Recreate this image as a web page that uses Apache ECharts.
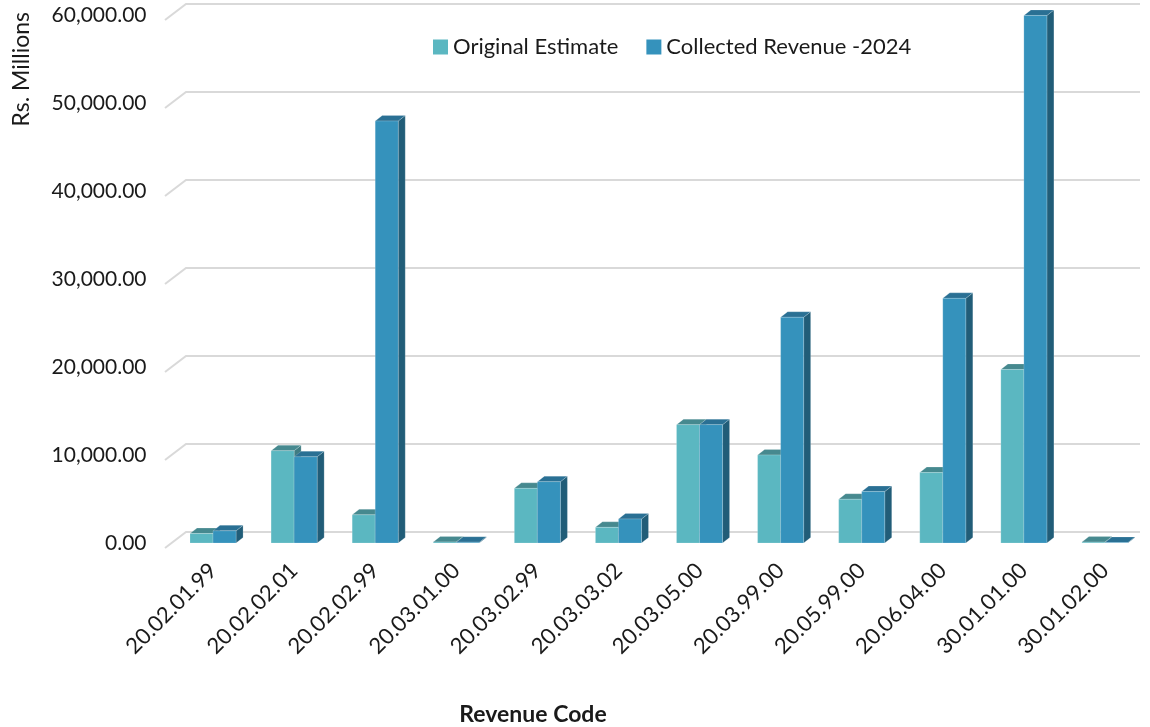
<!DOCTYPE html>
<html>
<head>
<meta charset="utf-8">
<script src="https://cdn.jsdelivr.net/npm/echarts@6/dist/echarts.min.js"></script>
<style>
html,body{margin:0;padding:0;background:#fff;}
#chart{width:1150px;height:727px;}
</style>
</head>
<body>
<div id="chart"></div>
<script>
const categories = ['20.02.01.99','20.02.02.01','20.02.02.99','20.03.01.00','20.03.02.99','20.03.03.02','20.03.05.00','20.03.99.00','20.05.99.00','20.06.04.00','30.01.01.00','30.01.02.00'];
const originalEstimate = [1070, 10490, 3200, 120, 6210, 1780, 13450, 10000, 4970, 8000, 19720, 100];
const collectedRevenue = [1380, 9800, 47950, 90, 6970, 2730, 13450, 25650, 5840, 27800, 59950, 60];
const yTicks = [0, 10000, 20000, 30000, 40000, 50000, 60000];
const seriesNames = ['Original Estimate', 'Collected Revenue -2024'];

const FONT = 'Lato';
const DX = 7, DY = 5.5;
const palettes = [
  {front:'#5bb7c1', top:'#46898f', side:'#3f7c82'},
  {front:'#3592bc', top:'#2a7094', side:'#215d78'}
];

function fmt(v){
  return Number(v).toLocaleString('en-US',{minimumFractionDigits:2, maximumFractionDigits:2});
}

function barRenderer(sIdx){
  return function(params, api){
    const i = api.value(0), v = api.value(1);
    const band = api.size([1,0])[0];
    const w = band * 0.284;
    const top = api.coord([i, v]);
    const base = api.coord([i, 0]);
    const x0 = sIdx === 0 ? top[0] - w : top[0];
    const x1 = x0 + w;
    const yT = top[1], yB = base[1];
    const p = palettes[sIdx];
    const edge = 'rgba(255,255,255,0.35)';
    return {
      type:'group',
      children:[
        {type:'polygon', shape:{points:[[x1,yT],[x1+DX,yT-DY],[x1+DX,yB-DY],[x1,yB]]}, style:{fill:p.side, stroke:edge, lineWidth:0.5}},
        {type:'polygon', shape:{points:[[x0,yT],[x1,yT],[x1+DX,yT-DY],[x0+DX,yT-DY]]}, style:{fill:p.top, stroke:edge, lineWidth:0.5}},
        {type:'rect', shape:{x:x0, y:yT, width:w, height:yB-yT}, style:{fill:p.front, stroke:edge, lineWidth:0.5}}
      ]
    };
  };
}

const chart = echarts.init(document.getElementById('chart'));
chart.setOption({
  animation:false,
  backgroundColor:'#fff',
  textStyle:{fontFamily:FONT},
  legend:{
    data:seriesNames,
    left:428, top:31,
    itemWidth:15, itemHeight:15, itemGap:28,
    icon:'rect',
    textStyle:{fontFamily:FONT, fontSize:22, color:'#1a1a1a'}
  },
  grid:{left:172.5, top:15, width:973, height:528, containLabel:false},
  xAxis:{
    type:'category',
    data:categories,
    axisLine:{show:false}, axisTick:{show:false}, splitLine:{show:false},
    axisLabel:{rotate:45, margin:24, fontSize:22, color:'#1a1a1a', fontFamily:FONT, interval:0}
  },
  yAxis:{
    type:'value', min:0, max:60000, interval:10000,
    axisLine:{show:false}, axisTick:{show:false}, splitLine:{show:false},
    axisLabel:{margin:26, fontSize:21, color:'#1a1a1a', fontFamily:FONT, formatter:fmt, padding:[7,0,0,0]}
  },
  graphic:[
    {type:'text', x:533, y:703, style:{text:'Revenue Code', font:'bold 23px ' + FONT, fill:'#1a1a1a', align:'center'}},
    {type:'text', x:33, y:12, rotation:Math.PI/2, style:{text:'Rs. Millions', font:'23px ' + FONT, fill:'#1a1a1a', align:'right', verticalAlign:'bottom'}}
  ],
  series:[
    {
      type:'custom', name:'__grid', z:1, silent:true,
      data:yTicks.map(v => [0, v]),
      renderItem:function(params, api){
        const cs = params.coordSys;
        const y = api.coord([0, api.value(1)])[1];
        return {type:'polyline', shape:{points:[[cs.x-7.5, y+5],[cs.x+13.5, y-11],[cs.x+cs.width-5.5, y-11]]}, style:{stroke:'#d9d9d9', lineWidth:2, fill:null}};
      }
    },
    {
      type:'custom', name:seriesNames[0], z:2,
      itemStyle:{color:palettes[0].front},
      data:originalEstimate.map((v,i)=>[i,v]),
      renderItem:barRenderer(0)
    },
    {
      type:'custom', name:seriesNames[1], z:3,
      itemStyle:{color:palettes[1].front},
      data:collectedRevenue.map((v,i)=>[i,v]),
      renderItem:barRenderer(1)
    }
  ]
});
</script>
</body>
</html>
